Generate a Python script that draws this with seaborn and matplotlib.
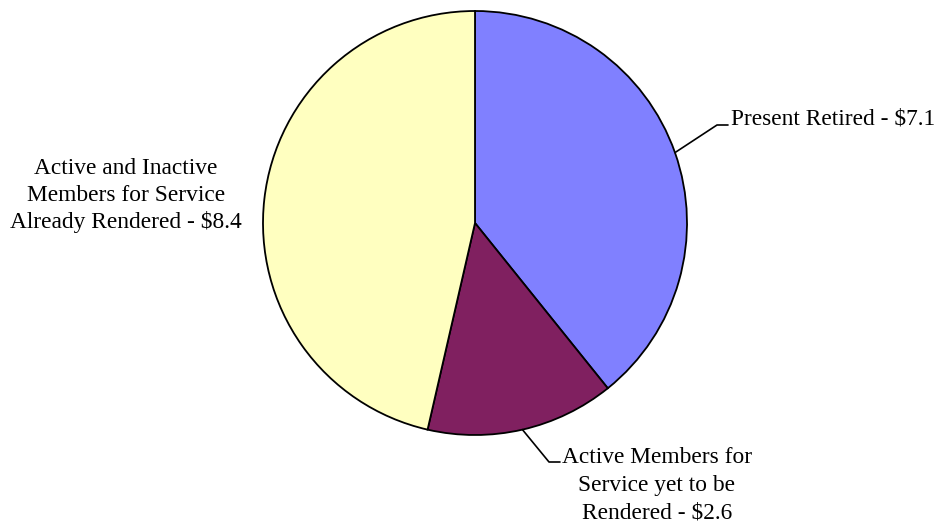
import numpy as np
import matplotlib
matplotlib.use("Agg")
import matplotlib.pyplot as plt
import seaborn as sns

# Actuarial liabilities (billions)
categories = ["Present Retired",
              "Active Members for Service yet to be Rendered",
              "Active and Inactive Members for Service Already Rendered"]
values = [7.1, 2.6, 8.4]
label_lines = [
    ["Present Retired - $7.1"],
    ["Active Members for", "Service yet to be", "Rendered - $2.6"],
    ["Active and Inactive", "Members for Service", "Already Rendered - $8.4"],
]
colors = ["#8080FF", "#802060", "#FFFFC0"]

sns.set_theme(style="white")
plt.rcParams["font.family"] = ["Liberation Serif", "DejaVu Serif"]
plt.rcParams["text.color"] = "black"

W, H = 939, 525
fig = plt.figure(figsize=(W / 100, H / 100), dpi=100)
ax = fig.add_axes([0, 0, 1, 1])


def py(y):
    # pixel row (top-down) to axis coordinate
    return H - y


cx, cy, r = 475, py(223), 212
wedges, _ = ax.pie(values, colors=colors, startangle=90, counterclock=False,
                   center=(cx, cy), radius=r, frame=True,
                   wedgeprops=dict(edgecolor="black", linewidth=1.3))
ax.set_xlim(0, W)
ax.set_ylim(0, H)
ax.set_aspect("equal")
ax.axis("off")

fs = 16.8
lc = dict(color="black", linewidth=1.2)

# Present Retired: leader from the slice midpoint
w = wedges[0]
a = np.deg2rad((w.theta1 + w.theta2) / 2)
x0, y0 = cx + r * np.cos(a), cy + r * np.sin(a)
ax.plot([x0, 717, 728], [y0, py(125), py(125)], **lc)
ax.text(731, py(124), label_lines[0][0], fontsize=fs, color="black",
        ha="left", va="baseline")

# Active members, future service
w = wedges[1]
a = np.deg2rad((w.theta1 + w.theta2) / 2)
x0, y0 = cx + r * np.cos(a), cy + r * np.sin(a)
ax.plot([x0, 549, 560], [y0, py(462), py(462)], **lc)
for line, yb in zip(label_lines[1], [463, 491, 518]):
    ax.text(657, py(yb), line, fontsize=fs, color="black",
            ha="center", va="baseline")

# Active and inactive members, past service
for line, yb in zip(label_lines[2], [174, 201, 228]):
    ax.text(126, py(yb), line, fontsize=fs, color="black",
            ha="center", va="baseline")

fig.savefig("out.png", dpi=100, facecolor="white")
